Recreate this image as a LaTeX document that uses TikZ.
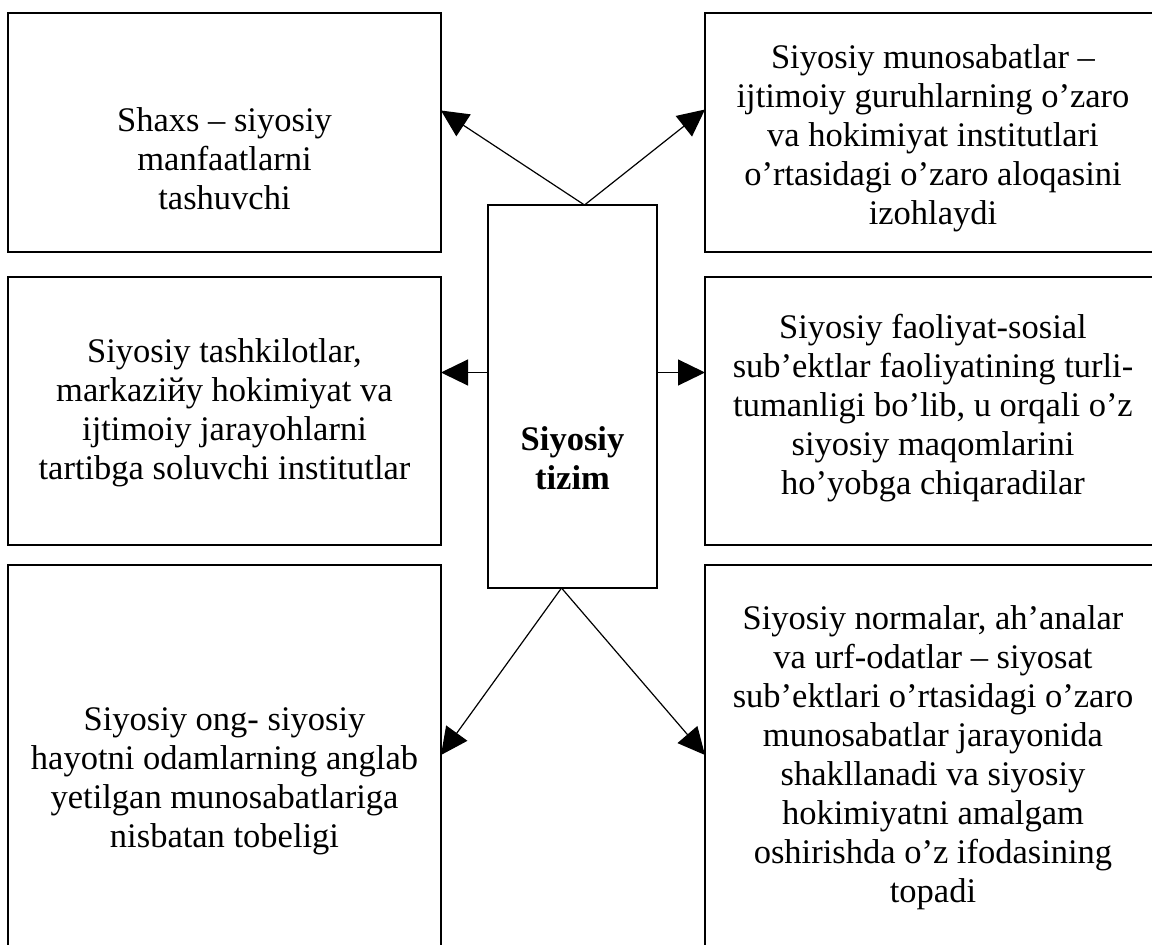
\documentclass[tikz,border=0pt]{standalone}
\usepackage{fontspec}
\setmainfont{Liberation Serif}
\usetikzlibrary{arrows.meta}

\tikzset{
  box/.style={draw, line width=1.5pt, rectangle, inner sep=0pt, outer sep=0pt},
  txt/.style={align=center, inner sep=0pt, font=\fontsize{34.5}{39}\selectfont},
  arr/.style={line width=1.2pt, -{Triangle[length=27pt,width=26pt]}}
}

\begin{document}
\begin{tikzpicture}[x=1pt, y=-1pt]
  \useasboundingbox (0,0) rectangle (1152,945);
  \clip (0,0) rectangle (1152,945);

  % Left column
  \node[box, minimum width=433pt, minimum height=239pt] (tl) at (224.5,132.5) {};
  \node[box, minimum width=433pt, minimum height=268pt] (ml) at (224.5,411) {};
  \node[box, minimum width=433pt, minimum height=426pt] (bl) at (224.5,778) {};

  % Right column
  \node[box, minimum width=456pt, minimum height=239pt] (tr) at (933,132.5) {};
  \node[box, minimum width=456pt, minimum height=268pt] (mr) at (933,411) {};
  \node[box, minimum width=456pt, minimum height=386pt] (br) at (933,758) {};

  % Centre
  \node[box, minimum width=169pt, minimum height=383pt] (sys) at (572.5,396.5) {};
  \node[txt] (syst) at (572.5,458) {\textbf{Siyosiy}\\\textbf{tizim}};

  % Texts
  \node[txt] (tlt) at (224.5,159) {Shaxs – siyosiy\\manfaatlarni\\tashuvchi};
  \node[txt] (trt) at (933,138.5) {Siyosiy munosabatlar –\\ijtimoiy guruhlarning o’zaro\\va hokimiyat institutlari\\o’rtasidagi o’zaro aloqasini\\izohlaydi};
  \node[txt] (mlt) at (224.5,412.5) {Siyosiy tashkilotlar,\\markaziйy hokimiyat va\\ijtimoiy jarayohlarni\\tartibga soluvchi institutlar};
  \node[txt] (mrt) at (933,408) {Siyosiy faoliyat-sosial\\sub’ektlar faoliyatining turli-\\tumanligi bo’lib, u orqali o’z\\siyosiy maqomlarini\\ho’yobga chiqaradilar};
  \node[txt] (blt) at (224.5,781) {Siyosiy ong- siyosiy\\hayotni odamlarning anglab\\yetilgan munosabatlariga\\nisbatan tobeligi};
  \node[txt] (brt) at (933,758) {Siyosiy normalar, ah’analar\\va urf-odatlar – siyosat\\sub’ektlari o’rtasidagi o’zaro\\munosabatlar jarayonida\\shakllanadi va siyosiy\\hokimiyatni amalgam\\oshirishda o’z ifodasining\\topadi};

  % Arrows
  \draw[arr] ([xshift=12pt]sys.north) -- ([yshift=22pt]tl.east);
  \draw[arr] ([xshift=12pt]sys.north) -- ([yshift=23pt]tr.west);
  \draw[arr] ([yshift=24pt]sys.west) -- ([yshift=24pt]sys.west -| ml.east);
  \draw[arr] ([yshift=24pt]sys.east) -- ([yshift=24pt]sys.east -| mr.west);
  \draw[arr] ([xshift=-11pt]sys.south) -- ([yshift=23pt]bl.east);
  \draw[arr] ([xshift=-11pt]sys.south) -- ([yshift=3pt]br.west);
\end{tikzpicture}
\end{document}
